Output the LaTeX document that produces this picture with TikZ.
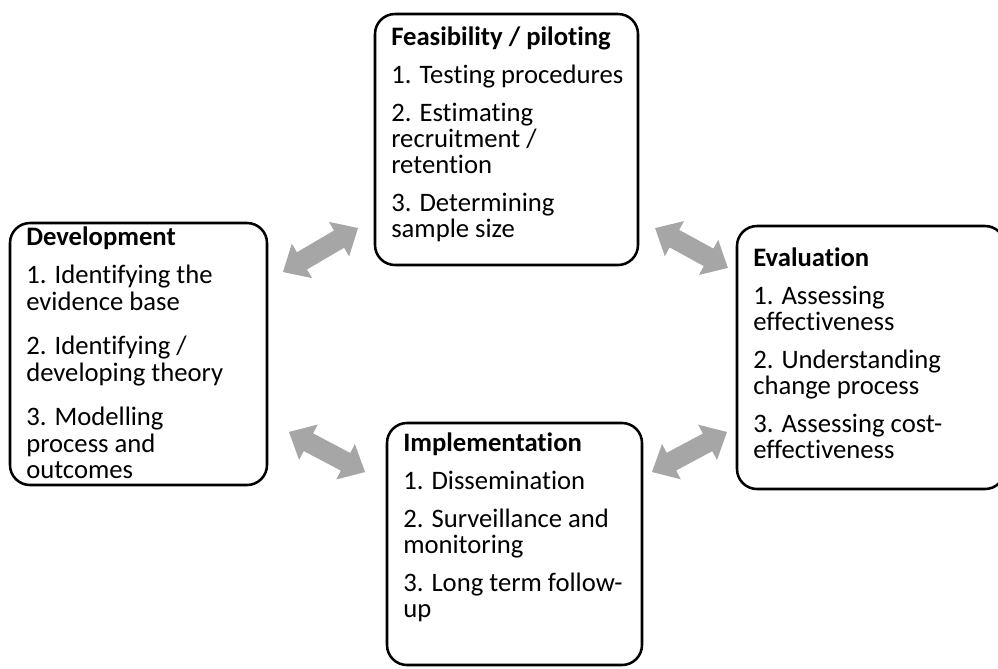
\documentclass[tikz,border=0pt]{standalone}
\usepackage{fontspec}
\setmainfont{Carlito}[Ligatures={NoCommon,NoContextual},RawFeature={-liga;-clig;-dlig}]
\usetikzlibrary{fit}
\definecolor{arrowgray}{RGB}{166,166,166}
\newcommand{\firststrut}{\rule{0pt}{20pt}}
\newcommand{\pgap}{\\[9pt]}
\newcommand{\dgap}{\\[13.5pt]}
\begin{document}
\begin{tikzpicture}[x=0.75pt,y=-0.75pt,
  box/.style={draw=black, line width=1.9pt, rounded corners=15pt, inner sep=0pt},
  txt/.style={anchor=north west, inner sep=0pt, align=left,
    font=\fontsize{20pt}{19.5pt}\selectfont},
  wtxt/.style={txt, font=\fontsize{20pt}{19.9pt}\selectfont}]
\useasboundingbox (0,0) rectangle (998,668);

% boxes
\node[box, fit={(375,14) (638,265)}] (feas) {};
\node[box, fit={(10,223) (267,485)}] (dev) {};
\node[box, fit={(737,226) (1005,489)}] (eval) {};
\node[box, fit={(387,423) (642,665)}] (impl) {};

% texts (baseline of first line = north + 26.67px)
\node[txt] (feastxt) at (391,18.3) {\firststrut\textbf{Feasibility / piloting}\pgap
1. Testing procedures\pgap
2. Estimating\\recruitment /\\retention\pgap
3. Determining\\sample size};

\node[wtxt] (devtxt) at (26,218.3) {\firststrut\textbf{Development}\pgap
1. Identifying the\\evidence base\dgap
2. Identifying /\\developing theory\dgap
3. Modelling\\process and\\outcomes};

\node[txt] (evaltxt) at (753,239.3) {\firststrut\textbf{Evaluation}\pgap
1. Assessing\\effectiveness\pgap
2. Understanding\\change process\pgap
3. Assessing cost-\\effectiveness};

\node[txt] (impltxt) at (403,424.3) {\firststrut\textbf{Implementation}\pgap
1. Dissemination\pgap
2. Surveillance and\\monitoring\pgap
3. Long term follow-\\up};

% double block arrows
\coordinate (a1) at (320.5,250);
\coordinate (a2) at (327,452);
\coordinate (a3) at (691.5,248);
\coordinate (a4) at (689.5,452);
\foreach \c/\ang/\L in {a1/30.4/87, a2/-27.8/86, a3/-28.7/83, a4/28.1/85}{
  \begin{scope}[shift={(\c)}, rotate=\ang]
    \fill[arrowgray] (-\L/2,0) -- (-\L/2+22,20) -- (-\L/2+22,10) -- (\L/2-22,10)
      -- (\L/2-22,20) -- (\L/2,0) -- (\L/2-22,-20) -- (\L/2-22,-10)
      -- (-\L/2+22,-10) -- (-\L/2+22,-20) -- cycle;
  \end{scope}
}
\end{tikzpicture}
\end{document}
